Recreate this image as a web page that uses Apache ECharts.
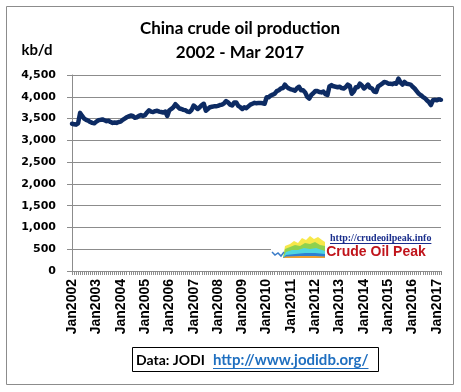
<!DOCTYPE html>
<html><head><meta charset="utf-8">
<script src="https://cdn.jsdelivr.net/npm/echarts@6/dist/echarts.min.js"></script>
<style>html,body{margin:0;padding:0;background:#fff}#c{width:461px;height:392px}</style>
</head><body><div id="c"></div>
<script>
// monthly crude oil production, kb/d (Jan 2002 - Mar 2017)
var years = [2002,2003,2004,2005,2006,2007,2008,2009,2010,2011,2012,2013,2014,2015,2016,2017];
var monthNames = ['Jan','Feb','Mar','Apr','May','Jun','Jul','Aug','Sep','Oct','Nov','Dec'];
var p2002 = [3380,3370,3360,3390,3630,3560,3500,3470,3450,3420,3400,3390];
var p2003 = [3430,3460,3470,3480,3460,3440,3450,3420,3400,3410,3400,3420];
var p2004 = [3430,3470,3500,3530,3550,3570,3560,3520,3530,3560,3580,3560];
var p2005 = [3580,3640,3690,3660,3650,3670,3680,3660,3650,3640,3660,3560];
var p2006 = [3690,3720,3760,3830,3780,3730,3720,3700,3690,3660,3650,3700];
var p2007 = [3800,3760,3720,3760,3810,3840,3680,3720,3760,3770,3780,3780];
var p2008 = [3790,3810,3820,3850,3900,3870,3820,3800,3870,3870,3790,3760];
var p2009 = [3720,3760,3740,3780,3820,3840,3860,3850,3860,3860,3850,3840];
var p2010 = [3990,3990,4030,4050,4070,4130,4150,4190,4200,4280,4220,4190];
var p2011 = [4170,4160,4140,4200,4230,4150,4150,4100,4000,3960,4040,4080];
var p2012 = [4130,4130,4110,4100,4120,4060,4040,4240,4270,4240,4230,4220];
var p2013 = [4230,4200,4190,4220,4280,4250,4070,4120,4220,4220,4300,4260];
var p2014 = [4190,4230,4280,4210,4190,4120,4110,4240,4270,4300,4340,4330];
var p2015 = [4300,4300,4290,4310,4300,4420,4330,4280,4340,4300,4290,4280];
var p2016 = [4230,4190,4130,4070,4040,4000,3970,3920,3880,3810,3920,3930];
var p2017 = [3920,3940,3930];
var yearData = [p2002,p2003,p2004,p2005,p2006,p2007,p2008,p2009,p2010,p2011,p2012,p2013,p2014,p2015,p2016,p2017];

var categories = [], values = [];
years.forEach(function(y, i){
  yearData[i].forEach(function(v, m){
    categories.push(monthNames[m] + y);
    values.push(v);
  });
});

function textWidth(t, font){
  var c = document.createElement('canvas').getContext('2d');
  c.font = font; return c.measureText(t).width;
}
var urlFont = 'bold 15px Lato, Calibri, sans-serif';
var urlText = 'http://www.jodidb.org/';
var urlW = textWidth(urlText, urlFont);
var logoUrlFont = 'bold 10px "Liberation Serif", "Times New Roman", serif';
var logoUrl = 'http://crudeoilpeak.info';
var logoUrlW = textWidth(logoUrl, logoUrlFont);

var chart = echarts.init(document.getElementById('c'), null, {renderer:'canvas'});
var grey = '#8c8c8c';
chart.setOption({
  animation:false,
  backgroundColor:'#fff',
  grid:{left:72, right:20, top:75, bottom:121, containLabel:false},
  xAxis:{
    type:'category', data:categories, boundaryGap:false,
    axisLine:{lineStyle:{color:grey, width:1}},
    axisTick:{show:true, interval:0, length:4, lineStyle:{color:grey}},
    axisLabel:{interval:11, rotate:90, margin:8, color:'#000', fontFamily:'Liberation Sans, Arial', fontWeight:'bold', fontSize:14},
    splitLine:{show:false}
  },
  yAxis:{
    type:'value', min:0, max:4500, interval:500,
    axisLine:{show:true, lineStyle:{color:grey}},
    axisTick:{show:true, length:5, lineStyle:{color:grey}},
    axisLabel:{margin:16, color:'#000', fontFamily:'DejaVu Sans', fontWeight:'bold', fontSize:11,
      formatter:function(v){return v.toLocaleString('en-US');}},
    splitLine:{show:true, lineStyle:{color:grey, width:1}}
  },
  series:[{type:'line', data:values, symbol:'none', smooth:false,
    lineStyle:{color:'#0d2b63', width:4.5, join:'round', cap:'round'}, z:3}],
  graphic:[
    {type:'rect', shape:{x:6.5, y:6.5, width:447, height:378}, style:{fill:'none', stroke:grey, lineWidth:1}, z:0, silent:true},
    {type:'text', x:240, y:29, style:{text:'China crude oil production', font:'bold 17px Lato, Calibri, sans-serif', fill:'#000', align:'center', verticalAlign:'middle'}},
    {type:'text', x:240, y:53, style:{text:'2002 - Mar 2017', font:'bold 17px Lato, Calibri, sans-serif', fill:'#000', align:'center', verticalAlign:'middle'}},
    {type:'text', x:37, y:50, style:{text:'kb/d', font:'bold 15px Lato, Calibri, sans-serif', fill:'#000', align:'center', verticalAlign:'middle'}},
    // logo
    {type:'rect', shape:{x:271, y:231, width:170, height:36}, style:{fill:'#fff'}, z:50, silent:true},
    {type:'polygon', z:51, shape:{points:[[283,258],[285,246],[290,244],[294,241],[298,243],[302,238],[306,240],[310,236],[314,239],[318,237],[322,240],[325,242],[325,258]]}, style:{fill:'#f7e84a'}},
    {type:'polygon', z:52, shape:{points:[[283,258],[285,249],[290,247],[295,245],[300,246],[305,243],[310,244],[315,242],[320,245],[325,246],[325,258]]}, style:{fill:'#8fd14f'}},
    {type:'polygon', z:53, shape:{points:[[283,258],[286,252],[292,250],[298,250],[304,248],[310,249],[316,248],[322,250],[325,251],[325,258]]}, style:{fill:'#4fd6e0'}},
    {type:'polygon', z:54, shape:{points:[[283,258],[286,255],[295,254],[305,253],[315,253],[325,254],[325,258]]}, style:{fill:'#2f7fd0'}},
    {type:'polygon', z:55, shape:{points:[[283,258],[286,256.5],[300,256],[315,256],[325,256.5],[325,258]]}, style:{fill:'#f0a030'}},
    {type:'polyline', z:56, shape:{points:[[272,252],[275,255],[278,253],[281,256],[284,252]]}, style:{stroke:'#3a7cc8', lineWidth:1.5, fill:'none'}},
    {type:'text', z:57, x:330, y:238, style:{text:logoUrl, font:logoUrlFont, fill:'#1a2e8c', align:'left', verticalAlign:'middle'}},
    {type:'line', z:57, shape:{x1:330, y1:243.5, x2:330 + logoUrlW, y2:243.5}, style:{stroke:'#1a2e8c', lineWidth:1}},
    {type:'text', z:57, x:376, y:252, style:{text:'Crude Oil Peak', font:'bold 14px "Liberation Sans", Arial, sans-serif', fill:'#c0141b', align:'center', verticalAlign:'middle'}},
    // source box
    {type:'rect', shape:{x:132.5, y:347.5, width:246, height:24}, style:{fill:'#fff', stroke:'#000', lineWidth:1}},
    {type:'text', x:136, y:360, style:{text:'Data: JODI', font:'bold 14px Lato, Calibri, sans-serif', fill:'#000', align:'left', verticalAlign:'middle'}},
    {type:'text', x:213, y:360, style:{text:urlText, font:urlFont, fill:'#1f6fc0', align:'left', verticalAlign:'middle'}},
    {type:'line', shape:{x1:213, y1:368.5, x2:213 + urlW, y2:368.5}, style:{stroke:'#1f6fc0', lineWidth:1}}
  ]
});
</script></body></html>
